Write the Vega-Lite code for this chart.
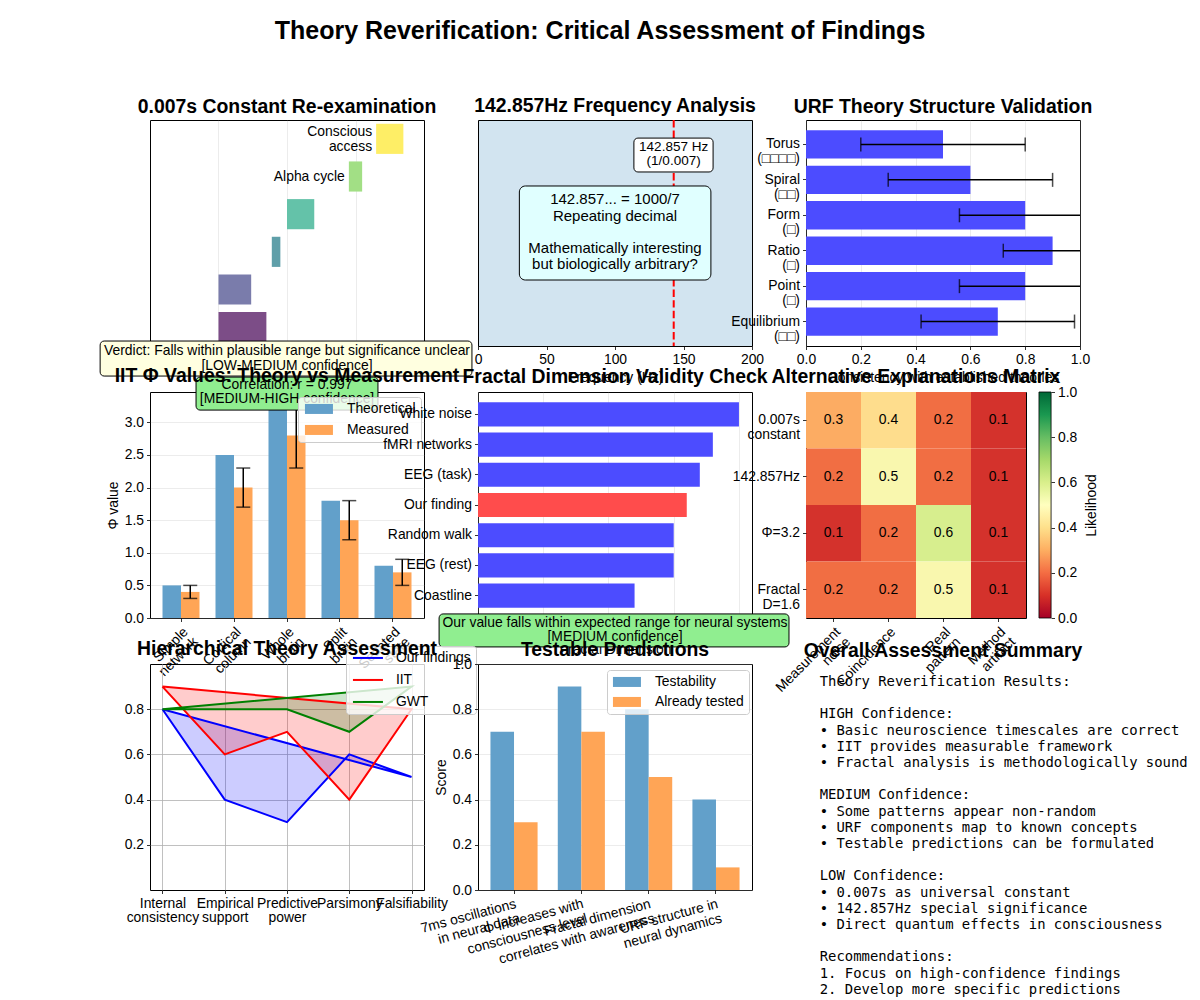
{
  "$schema": "https://vega.github.io/schema/vega-lite/v6.json",
  "autosize": {"type": "none"},
  "padding": {"left": 150, "top": 120, "right": 1050, "bottom": 880},
  "background": "white",
  "title": {"text": "Theory Reverification: Critical Assessment of Findings", "fontSize": 25, "fontWeight": "bold", "anchor": "start", "frame": "group", "align": "center", "dx": 450, "offset": 31, "baseline": "alphabetic"},
  "columns": 3,
  "spacing": {"row": 46, "column": 54},
  "bounds": "flush",
  "align": "all",
  "resolve": {"scale": {"color": "independent"}, "legend": {"color": "independent"}},
  "config": {
    "font": "Liberation Sans",
    "view": {"stroke": "black", "strokeWidth": 1},
    "axis": {"domain": false, "grid": false, "ticks": true, "tickColor": "black", "tickSize": 3.5, "tickWidth": 0.8, "labelFontSize": 13.9, "labelColor": "black", "labelPadding": 3, "titleFontSize": 13.9, "titleFontWeight": "normal", "titleColor": "black", "labelFont": "Liberation Sans", "titleFont": "Liberation Sans", "gridColor": "#b0b0b0", "gridOpacity": 0.3, "gridWidth": 0.8, "labelOverlap": false, "labelFlush": false},
    "title": {"font": "Liberation Sans", "fontSize": 19.4, "fontWeight": "bold", "color": "black", "anchor": "middle", "baseline": "alphabetic", "offset": 3},
    "legend": {"labelFontSize": 13.9, "labelFont": "Liberation Sans", "labelColor": "black", "fillColor": "rgba(255,255,255,0.8)", "strokeColor": "#cccccc", "cornerRadius": 3, "padding": 5, "symbolOpacity": 1, "rowPadding": 6, "orient": "none", "labelLimit": 300}
  },
  "concat": [
    {
      "width": 274, "height": 226,
      "title": {"text": "0.007s Constant Re-examination"},
      "resolve": {"scale": {"x": "independent", "y": "independent"}},
      "layer": [
        {
          "data": {"values": [
            {"process": "Synaptic integration", "start": 0.001, "end": 0.005, "label": ""},
            {"process": "Action potential", "start": 0.001, "end": 0.003, "label": ""},
            {"process": "Proposed constant", "start": 0.006, "end": 0.008, "label": ""},
            {"process": "Gamma cycle", "start": 0.01, "end": 0.025, "label": ""},
            {"process": "Alpha cycle", "start": 0.08, "end": 0.125, "label": "Alpha cycle"},
            {"process": "Conscious access", "start": 0.2, "end": 0.5, "label": "Conscious\naccess"}
          ]},
          "encoding": {
            "y": {"field": "process", "type": "nominal", "scale": {"domain": ["Conscious access", "Alpha cycle", "Gamma cycle", "Proposed constant", "Action potential", "Synaptic integration"], "paddingInner": 0.2, "paddingOuter": 0.1}, "axis": null},
            "x": {"field": "start", "type": "quantitative", "scale": {"type": "log", "domain": [0.0001, 1]}, "axis": {"grid": true, "labels": false, "title": null, "values": [0.001, 0.01, 0.1]}},
            "x2": {"field": "end"}
          },
          "layer": [
            {"mark": {"type": "bar"}, "encoding": {"color": {"field": "process", "type": "nominal", "scale": {"domain": ["Synaptic integration", "Action potential", "Proposed constant", "Gamma cycle", "Alpha cycle", "Conscious access"], "range": ["#7c4d87", "#7a7cab", "#5f9fa9", "#64c2a9", "#a2df85", "#feee66"]}, "legend": null}}},
            {"mark": {"type": "text", "align": "right", "baseline": "middle", "dx": -4, "dy": -7, "fontSize": 13.9, "lineBreak": "\n", "lineHeight": 15.5}, "transform": [{"filter": "datum.label === 'Conscious\\naccess'"}], "encoding": {"text": {"field": "label"}}},
            {"mark": {"type": "text", "align": "right", "baseline": "middle", "dx": -4, "fontSize": 13.9}, "transform": [{"filter": "datum.label === 'Alpha cycle'"}], "encoding": {"text": {"field": "label"}}}
          ]
        },
        {
          "data": {"values": [{"note": "Verdict: Falls within plausible range but significance unclear\n[LOW-MEDIUM confidence]"}]},
          "layer": [
            {"mark": {"type": "rect", "fill": "#ffffe0", "stroke": "black", "strokeWidth": 1, "cornerRadius": 4},
             "encoding": {"x": {"datum": -0.182, "type": "quantitative", "scale": {"domain": [0, 1]}, "axis": null}, "x2": {"datum": 1.175}, "y": {"datum": 0.022, "type": "quantitative", "scale": {"domain": [0, 1]}, "axis": null}, "y2": {"datum": -0.133}}},
            {"mark": {"type": "text", "fontSize": 13.9, "lineBreak": "\n", "baseline": "middle", "lineHeight": 14.6},
             "encoding": {"x": {"datum": 0.5, "type": "quantitative", "scale": {"domain": [0, 1]}}, "y": {"datum": -0.022, "type": "quantitative", "scale": {"domain": [0, 1]}}, "text": {"field": "note"}}}
          ]
        }
      ]
    },
    {
      "width": 274, "height": 226,
      "title": {"text": "142.857Hz Frequency Analysis"},
      "view": {"fill": "#d2e4f0", "stroke": "black"},
      "resolve": {"scale": {"x": "independent", "y": "independent"}},
      "layer": [
        {
          "data": {"values": [{"frequency": 142.857}]},
          "mark": {"type": "rule", "color": "#ff0000", "strokeWidth": 2, "strokeDash": [7.4, 3.2]},
          "encoding": {"x": {"field": "frequency", "type": "quantitative", "scale": {"domain": [0, 200], "nice": false}, "axis": {"title": "Frequency (Hz)", "values": [0, 50, 100, 150, 200]}}}
        },
        {
          "data": {"values": [{"note": "142.857 Hz\n(1/0.007)"}]},
          "layer": [
            {"mark": {"type": "rect", "fill": "white", "stroke": "black", "strokeWidth": 1, "cornerRadius": 4},
             "encoding": {"x": {"datum": 0.569, "type": "quantitative", "scale": {"domain": [0, 1]}, "axis": null}, "x2": {"datum": 0.858}, "y": {"datum": 0.92, "type": "quantitative", "scale": {"domain": [0, 1]}, "axis": null}, "y2": {"datum": 0.77}}},
            {"mark": {"type": "text", "fontSize": 13.5, "lineBreak": "\n", "baseline": "middle", "lineHeight": 14.3},
             "encoding": {"x": {"datum": 0.714, "type": "quantitative", "scale": {"domain": [0, 1]}}, "y": {"datum": 0.881, "type": "quantitative", "scale": {"domain": [0, 1]}}, "text": {"field": "note"}}}
          ]
        },
        {
          "data": {"values": [{"fact": "142.857... = 1000/7\nRepeating decimal", "judgement": "Mathematically interesting\nbut biologically arbitrary?"}]},
          "layer": [
            {"mark": {"type": "rect", "fill": "#e0ffff", "stroke": "black", "strokeWidth": 1, "cornerRadius": 6},
             "encoding": {"x": {"datum": 0.151, "type": "quantitative", "scale": {"domain": [0, 1]}, "axis": null}, "x2": {"datum": 0.85}, "y": {"datum": 0.708, "type": "quantitative", "scale": {"domain": [0, 1]}, "axis": null}, "y2": {"datum": 0.292}}},
            {"mark": {"type": "text", "fontSize": 15, "lineBreak": "\n", "baseline": "middle", "lineHeight": 16.3},
             "encoding": {"x": {"datum": 0.5, "type": "quantitative", "scale": {"domain": [0, 1]}}, "y": {"datum": 0.649, "type": "quantitative", "scale": {"domain": [0, 1]}}, "text": {"field": "fact"}}},
            {"mark": {"type": "text", "fontSize": 15, "lineBreak": "\n", "baseline": "middle", "lineHeight": 16.3},
             "encoding": {"x": {"datum": 0.5, "type": "quantitative", "scale": {"domain": [0, 1]}}, "y": {"datum": 0.433, "type": "quantitative", "scale": {"domain": [0, 1]}}, "text": {"field": "judgement"}}}
          ]
        }
      ]
    },
    {
      "width": 274, "height": 226,
      "title": {"text": "URF Theory Structure Validation"},
      "data": {"values": [
        {"component": "Torus\n(□□□□)", "score": 0.5, "lo": 0.2, "hi": 0.8},
        {"component": "Spiral\n(□□)", "score": 0.6, "lo": 0.3, "hi": 0.9},
        {"component": "Form\n(□)", "score": 0.8, "lo": 0.56, "hi": 1.04},
        {"component": "Ratio\n(□)", "score": 0.9, "lo": 0.72, "hi": 1.08},
        {"component": "Point\n(□)", "score": 0.8, "lo": 0.56, "hi": 1.04},
        {"component": "Equilibrium\n(□□)", "score": 0.7, "lo": 0.42, "hi": 0.98}
      ]},
      "encoding": {
        "y": {"field": "component", "type": "nominal", "sort": null, "scale": {"paddingInner": 0.2, "paddingOuter": 0.29}, "axis": {"title": null, "labelExpr": "split(datum.label, '\\n')", "labelLineHeight": 15}}
      },
      "layer": [
        {"mark": {"type": "bar", "color": "#4c4cff"}, "encoding": {"x": {"field": "score", "type": "quantitative", "scale": {"domain": [0, 1], "nice": false}, "axis": {"grid": true, "values": [0, 0.2, 0.4, 0.6, 0.8, 1.0], "format": ".1f", "title": "Consistency with established theories"}}}},
        {"mark": {"type": "rule", "color": "black", "strokeWidth": 1.5, "clip": true}, "encoding": {"x": {"field": "lo", "type": "quantitative"}, "x2": {"field": "hi"}}},
        {"mark": {"type": "tick", "color": "black", "thickness": 1.5, "size": 14, "clip": true}, "encoding": {"x": {"field": "lo", "type": "quantitative"}}},
        {"mark": {"type": "tick", "color": "black", "thickness": 1.5, "size": 14, "clip": true}, "encoding": {"x": {"field": "hi", "type": "quantitative"}}}
      ]
    },
    {
      "width": 274, "height": 226,
      "title": {"text": "IIT Φ Values: Theory vs Measurement", "dy": 13},
      "resolve": {"scale": {"x": "independent", "y": "independent"}},
      "layer": [
        {
          "data": {"values": [
            {"system": "Simple\nnetwork", "type": "Theoretical", "phi": 0.5},
            {"system": "Simple\nnetwork", "type": "Measured", "phi": 0.4, "lo": 0.3, "hi": 0.5},
            {"system": "Cortical\ncolumn", "type": "Theoretical", "phi": 2.5},
            {"system": "Cortical\ncolumn", "type": "Measured", "phi": 2.0, "lo": 1.7, "hi": 2.3},
            {"system": "Whole\nbrain", "type": "Theoretical", "phi": 3.2},
            {"system": "Whole\nbrain", "type": "Measured", "phi": 2.8, "lo": 2.3, "hi": 3.3},
            {"system": "Split\nbrain", "type": "Theoretical", "phi": 1.8},
            {"system": "Split\nbrain", "type": "Measured", "phi": 1.5, "lo": 1.2, "hi": 1.8},
            {"system": "Sedated\nstate", "type": "Theoretical", "phi": 0.8},
            {"system": "Sedated\nstate", "type": "Measured", "phi": 0.7, "lo": 0.5, "hi": 0.9}
          ]},
          "encoding": {
            "x": {"field": "system", "type": "nominal", "sort": null, "scale": {"type": "band", "paddingInner": 0.302, "paddingOuter": 0.236}, "axis": {"title": null, "labelExpr": "split(datum.label, '\\n')", "labelAngle": 315, "labelAlign": "right", "labelBaseline": "top", "labelLineHeight": 14}},
            "y": {"field": "phi", "type": "quantitative", "scale": {"domain": [0, 3.466], "nice": false}, "axis": {"grid": true, "values": [0, 0.5, 1, 1.5, 2, 2.5, 3], "format": ".1f", "title": "Φ value"}}
          },
          "layer": [
            {"transform": [{"filter": "datum.type === 'Theoretical'"}], "mark": {"type": "bar", "width": {"band": 0.5}, "xOffset": -9.25}, "encoding": {
              "color": {"field": "type", "type": "nominal", "scale": {"domain": ["Theoretical", "Measured"], "range": ["#62a0ca", "#ffa556"]}, "legend": {"title": null, "legendX": 148, "legendY": 5, "symbolType": "M-2.8,-1H2.8V1H-2.8Z", "symbolSize": 100, "symbolStrokeWidth": 0, "symbolOffset": 9, "labelOffset": 21}}
            }},
            {"transform": [{"filter": "datum.type === 'Measured'"}], "mark": {"type": "bar", "width": {"band": 0.5}, "xOffset": 9.25}, "encoding": {
              "color": {"field": "type", "type": "nominal", "scale": {"domain": ["Theoretical", "Measured"], "range": ["#62a0ca", "#ffa556"]}, "legend": {"title": null, "legendX": 148, "legendY": 5, "symbolType": "M-2.8,-1H2.8V1H-2.8Z", "symbolSize": 100, "symbolStrokeWidth": 0, "symbolOffset": 9, "labelOffset": 21}}
            }},
            {"transform": [{"filter": "datum.type === 'Measured'"}], "mark": {"type": "rule", "color": "black", "strokeWidth": 1.5, "xOffset": 9.25}, "encoding": {"y": {"field": "lo", "type": "quantitative"}, "y2": {"field": "hi"}}},
            {"transform": [{"filter": "datum.type === 'Measured'"}], "mark": {"type": "tick", "color": "black", "thickness": 1.5, "size": 14, "xOffset": 9.25}, "encoding": {"y": {"field": "lo", "type": "quantitative"}}},
            {"transform": [{"filter": "datum.type === 'Measured'"}], "mark": {"type": "tick", "color": "black", "thickness": 1.5, "size": 14, "xOffset": 9.25}, "encoding": {"y": {"field": "hi", "type": "quantitative"}}}
          ]
        },
        {
          "data": {"values": [{"note": "Correlation: r = 0.997\n[MEDIUM-HIGH confidence]"}]},
          "layer": [
            {"mark": {"type": "rect", "fill": "#90ee90", "stroke": "black", "strokeWidth": 1, "cornerRadius": 4},
             "encoding": {"x": {"datum": 0.168, "type": "quantitative", "scale": {"domain": [0, 1]}, "axis": null}, "x2": {"datum": 0.832}, "y": {"datum": 1.066, "type": "quantitative", "scale": {"domain": [0, 1]}, "axis": null}, "y2": {"datum": 0.92}}},
            {"mark": {"type": "text", "fontSize": 13.9, "lineBreak": "\n", "baseline": "middle", "lineHeight": 14.5},
             "encoding": {"x": {"datum": 0.5, "type": "quantitative", "scale": {"domain": [0, 1]}}, "y": {"datum": 1.031, "type": "quantitative", "scale": {"domain": [0, 1]}}, "text": {"field": "note"}}}
          ]
        }
      ]
    },
    {
      "width": 274, "height": 226,
      "title": {"text": "Fractal Dimension Validity Check", "dy": -2},
      "resolve": {"scale": {"x": "independent", "y": "independent"}},
      "layer": [
        {
          "data": {"values": [
            {"system": "White noise", "dimension": 2.0},
            {"system": "fMRI networks", "dimension": 1.8},
            {"system": "EEG (task)", "dimension": 1.7},
            {"system": "Our finding", "dimension": 1.6},
            {"system": "Random walk", "dimension": 1.5},
            {"system": "EEG (rest)", "dimension": 1.5},
            {"system": "Coastline", "dimension": 1.2}
          ]},
          "mark": {"type": "bar"},
          "encoding": {
            "y": {"field": "system", "type": "nominal", "sort": null, "scale": {"paddingInner": 0.2, "paddingOuter": 0.34}, "axis": {"title": null}},
            "x": {"field": "dimension", "type": "quantitative", "scale": {"domain": [0, 2.1], "nice": false}, "axis": {"grid": true, "values": [0, 0.5, 1, 1.5, 2], "format": ".1f", "title": "Fractal Dimension"}},
            "color": {"condition": {"test": "datum.system === 'Our finding'", "value": "#ff4c4c"}, "value": "#4c4cff"}
          }
        },
        {
          "data": {"values": [{"note": "Our value falls within expected range for neural systems\n[MEDIUM confidence]"}]},
          "layer": [
            {"mark": {"type": "rect", "fill": "#90ee90", "stroke": "black", "strokeWidth": 1, "cornerRadius": 4},
             "encoding": {"x": {"datum": -0.142, "type": "quantitative", "scale": {"domain": [0, 1]}, "axis": null}, "x2": {"datum": 1.135}, "y": {"datum": 0.018, "type": "quantitative", "scale": {"domain": [0, 1]}, "axis": null}, "y2": {"datum": -0.128}}},
            {"mark": {"type": "text", "fontSize": 13.9, "lineBreak": "\n", "baseline": "middle", "lineHeight": 14},
             "encoding": {"x": {"datum": 0.5, "type": "quantitative", "scale": {"domain": [0, 1]}}, "y": {"datum": -0.021, "type": "quantitative", "scale": {"domain": [0, 1]}}, "text": {"field": "note"}}}
          ]
        }
      ]
    },
    {
      "width": 220, "height": 226,
      "title": {"text": "Alternative Explanations Matrix", "dy": 5},
      "resolve": {"scale": {"x": "independent", "y": "independent"}},
      "layer": [
        {
          "data": {"values": [
            {"claim": "0.007s\nconstant", "explanation": "Measurement\nnoise", "likelihood": 0.3},
            {"claim": "0.007s\nconstant", "explanation": "Coincidence", "likelihood": 0.4},
            {"claim": "0.007s\nconstant", "explanation": "Real\npattern", "likelihood": 0.2},
            {"claim": "0.007s\nconstant", "explanation": "Method\nartifact", "likelihood": 0.1},
            {"claim": "142.857Hz", "explanation": "Measurement\nnoise", "likelihood": 0.2},
            {"claim": "142.857Hz", "explanation": "Coincidence", "likelihood": 0.5},
            {"claim": "142.857Hz", "explanation": "Real\npattern", "likelihood": 0.2},
            {"claim": "142.857Hz", "explanation": "Method\nartifact", "likelihood": 0.1},
            {"claim": "Φ=3.2", "explanation": "Measurement\nnoise", "likelihood": 0.1},
            {"claim": "Φ=3.2", "explanation": "Coincidence", "likelihood": 0.2},
            {"claim": "Φ=3.2", "explanation": "Real\npattern", "likelihood": 0.6},
            {"claim": "Φ=3.2", "explanation": "Method\nartifact", "likelihood": 0.1},
            {"claim": "Fractal\nD=1.6", "explanation": "Measurement\nnoise", "likelihood": 0.2},
            {"claim": "Fractal\nD=1.6", "explanation": "Coincidence", "likelihood": 0.2},
            {"claim": "Fractal\nD=1.6", "explanation": "Real\npattern", "likelihood": 0.5},
            {"claim": "Fractal\nD=1.6", "explanation": "Method\nartifact", "likelihood": 0.1}
          ]},
          "encoding": {
            "x": {"field": "explanation", "type": "nominal", "sort": null, "scale": {"paddingInner": 0, "paddingOuter": 0}, "axis": {"title": null, "labelExpr": "split(datum.label, '\\n')", "labelAngle": 315, "labelAlign": "right", "labelBaseline": "top", "labelLineHeight": 14}},
            "y": {"field": "claim", "type": "nominal", "sort": null, "scale": {"paddingInner": 0, "paddingOuter": 0}, "axis": {"title": null, "labelExpr": "split(datum.label, '\\n')", "labelLineHeight": 15}}
          },
          "layer": [
            {"mark": {"type": "rect"}, "encoding": {"color": {"field": "likelihood", "type": "quantitative", "scale": {"scheme": "redyellowgreen", "domain": [0, 1]}, "legend": null}}},
            {"mark": {"type": "text", "fontSize": 13.9, "color": "black"}, "encoding": {"text": {"field": "likelihood", "type": "quantitative", "format": ".1f"}}}
          ]
        },
        {
          "data": {"values": [{}]},
          "mark": {"type": "rect", "fill": {"gradient": "linear", "x1": 0, "y1": 1, "x2": 0, "y2": 0, "stops": [
            {"offset": 0, "color": "#a50026"}, {"offset": 0.1, "color": "#d73027"}, {"offset": 0.2, "color": "#f46d43"}, {"offset": 0.3, "color": "#fdae61"}, {"offset": 0.4, "color": "#fee08b"}, {"offset": 0.5, "color": "#ffffbf"}, {"offset": 0.6, "color": "#d9ef8b"}, {"offset": 0.7, "color": "#a6d96a"}, {"offset": 0.8, "color": "#66bd63"}, {"offset": 0.9, "color": "#1a9850"}, {"offset": 1, "color": "#006837"}]}, "stroke": "black", "strokeWidth": 0.8},
          "encoding": {
            "x": {"datum": 1.059, "type": "quantitative", "scale": {"domain": [0, 1]}, "axis": null},
            "x2": {"datum": 1.114},
            "y": {"datum": 0, "type": "quantitative", "scale": {"domain": [0, 1], "nice": false}, "axis": {"orient": "right", "offset": 25, "values": [0, 0.2, 0.4, 0.6, 0.8, 1], "format": ".1f", "title": "Likelihood", "titleAngle": 270, "titlePadding": 22}},
            "y2": {"datum": 1}
          }
        }
      ]
    },
    {
      "width": 274, "height": 226,
      "title": {"text": "Hierarchical Theory Assessment", "dy": 17},
      "data": {"values": [
        {"theory": "Our findings", "criterion": "Internal\nconsistency", "step": 0, "score": 0.8},
        {"theory": "Our findings", "criterion": "Empirical\nsupport", "step": 1, "score": 0.4},
        {"theory": "Our findings", "criterion": "Predictive\npower", "step": 2, "score": 0.3},
        {"theory": "Our findings", "criterion": "Parsimony", "step": 3, "score": 0.6},
        {"theory": "Our findings", "criterion": "Falsifiability", "step": 4, "score": 0.5},
        {"theory": "Our findings", "criterion": "Internal\nconsistency", "step": 5, "score": 0.8},
        {"theory": "IIT", "criterion": "Internal\nconsistency", "step": 0, "score": 0.9},
        {"theory": "IIT", "criterion": "Empirical\nsupport", "step": 1, "score": 0.6},
        {"theory": "IIT", "criterion": "Predictive\npower", "step": 2, "score": 0.7},
        {"theory": "IIT", "criterion": "Parsimony", "step": 3, "score": 0.4},
        {"theory": "IIT", "criterion": "Falsifiability", "step": 4, "score": 0.8},
        {"theory": "IIT", "criterion": "Internal\nconsistency", "step": 5, "score": 0.9},
        {"theory": "GWT", "criterion": "Internal\nconsistency", "step": 0, "score": 0.8},
        {"theory": "GWT", "criterion": "Empirical\nsupport", "step": 1, "score": 0.8},
        {"theory": "GWT", "criterion": "Predictive\npower", "step": 2, "score": 0.8},
        {"theory": "GWT", "criterion": "Parsimony", "step": 3, "score": 0.7},
        {"theory": "GWT", "criterion": "Falsifiability", "step": 4, "score": 0.9},
        {"theory": "GWT", "criterion": "Internal\nconsistency", "step": 5, "score": 0.8}
      ]},
      "encoding": {
        "x": {"field": "criterion", "type": "nominal", "scale": {"type": "point", "domain": ["Internal\nconsistency", "Empirical\nsupport", "Predictive\npower", "Parsimony", "Falsifiability"], "padding": 0.2}, "axis": {"title": null, "grid": true, "gridOpacity": 1, "labelExpr": "split(datum.label, '\\n')", "labelAngle": 0, "labelAlign": "center", "labelBaseline": "top", "labelLineHeight": 14}},
        "y": {"field": "score", "type": "quantitative", "scale": {"domain": [0, 1], "nice": false}, "axis": {"grid": true, "gridOpacity": 1, "values": [0.2, 0.4, 0.6, 0.8], "format": ".1f", "title": null}},
        "order": {"field": "step", "type": "quantitative"}
      },
      "layer": [
        {"transform": [{"filter": "datum.theory === 'Our findings'"}], "mark": {"type": "line"}, "encoding": {"fill": {"value": "#0000ff"}, "fillOpacity": {"value": 0.2}, "strokeOpacity": {"value": 0}}},
        {"transform": [{"filter": "datum.theory === 'IIT'"}], "mark": {"type": "line"}, "encoding": {"fill": {"value": "#ff0000"}, "fillOpacity": {"value": 0.2}, "strokeOpacity": {"value": 0}}},
        {"transform": [{"filter": "datum.theory === 'GWT'"}], "mark": {"type": "line"}, "encoding": {"fill": {"value": "#008000"}, "fillOpacity": {"value": 0.2}, "strokeOpacity": {"value": 0}}},
        {"mark": {"type": "line", "strokeWidth": 2}, "encoding": {"color": {"field": "theory", "type": "nominal", "scale": {"domain": ["Our findings", "IIT", "GWT"], "range": ["#0000ff", "#ff0000", "#008000"]}, "legend": {"title": null, "legendX": 196, "legendY": -18, "symbolType": "M-3,0H3", "symbolSize": 100, "symbolStrokeWidth": 2, "symbolOffset": 10, "labelOffset": 21, "rowPadding": 7}}}}
      ]
    },
    {
      "width": 274, "height": 226,
      "title": {"text": "Testable Predictions", "dy": 6},
      "data": {"values": [
        {"prediction": "7ms oscillations\nin neural data", "metric": "Testability", "score": 0.7},
        {"prediction": "7ms oscillations\nin neural data", "metric": "Already tested", "score": 0.3},
        {"prediction": "Φ increases with\nconsciousness level", "metric": "Testability", "score": 0.9},
        {"prediction": "Φ increases with\nconsciousness level", "metric": "Already tested", "score": 0.7},
        {"prediction": "Fractal dimension\ncorrelates with awareness", "metric": "Testability", "score": 0.8},
        {"prediction": "Fractal dimension\ncorrelates with awareness", "metric": "Already tested", "score": 0.5},
        {"prediction": "URF structure in\nneural dynamics", "metric": "Testability", "score": 0.4},
        {"prediction": "URF structure in\nneural dynamics", "metric": "Already tested", "score": 0.1}
      ]},
      "encoding": {
        "x": {"field": "prediction", "type": "nominal", "sort": null, "scale": {"type": "band", "paddingInner": 0.3, "paddingOuter": 0.185}, "axis": {"title": null, "labelExpr": "split(datum.label, '\\n')", "labelAngle": 345, "labelAlign": "right", "labelBaseline": "top", "labelLineHeight": 15}},
        "y": {"field": "score", "type": "quantitative", "scale": {"domain": [0, 1], "nice": false}, "axis": {"grid": true, "values": [0, 0.2, 0.4, 0.6, 0.8, 1.0], "format": ".1f", "title": "Score"}},
        "color": {"field": "metric", "type": "nominal", "scale": {"domain": ["Testability", "Already tested"], "range": ["#62a0ca", "#ffa556"]}, "legend": {"title": null, "legendX": 129, "legendY": 6, "symbolType": "M-2.8,-1H2.8V1H-2.8Z", "symbolSize": 100, "symbolStrokeWidth": 0, "symbolOffset": 8, "labelOffset": 21, "rowPadding": 5}}
      },
      "layer": [
        {"transform": [{"filter": "datum.metric === 'Testability'"}], "mark": {"type": "bar", "width": {"band": 0.5}, "xOffset": -11.78}},
        {"transform": [{"filter": "datum.metric === 'Already tested'"}], "mark": {"type": "bar", "width": {"band": 0.5}, "xOffset": 11.78}}
      ]
    },
    {
      "width": 274, "height": 226,
      "title": {"text": "Overall Assessment Summary"},
      "view": {"stroke": null},
      "data": {"values": [{
        "heading": "Theory Reverification Results:",
        "high": "HIGH Confidence:\n• Basic neuroscience timescales are correct\n• IIT provides measurable framework\n• Fractal analysis is methodologically sound",
        "medium": "MEDIUM Confidence:\n• Some patterns appear non-random\n• URF components map to known concepts\n• Testable predictions can be formulated",
        "low": "LOW Confidence:\n• 0.007s as universal constant\n• 142.857Hz special significance\n• Direct quantum effects in consciousness",
        "recommendations": "Recommendations:\n1. Focus on high-confidence findings\n2. Develop more specific predictions"
      }]},
      "encoding": {
        "x": {"datum": 0.05, "type": "quantitative", "scale": {"domain": [0, 1]}, "axis": null}
      },
      "layer": [
        {"mark": {"type": "text", "align": "left", "baseline": "top", "font": "DejaVu Sans Mono", "fontSize": 13.9, "lineHeight": 16.2, "lineBreak": "\n", "color": "black"}, "encoding": {"y": {"datum": 0.95, "type": "quantitative", "scale": {"domain": [0, 1], "nice": false}, "axis": null}, "text": {"field": "heading"}}},
        {"mark": {"type": "text", "align": "left", "baseline": "top", "font": "DejaVu Sans Mono", "fontSize": 13.9, "lineHeight": 16.2, "lineBreak": "\n", "color": "black"}, "encoding": {"y": {"datum": 0.808, "type": "quantitative", "scale": {"domain": [0, 1], "nice": false}, "axis": null}, "text": {"field": "high"}}},
        {"mark": {"type": "text", "align": "left", "baseline": "top", "font": "DejaVu Sans Mono", "fontSize": 13.9, "lineHeight": 16.2, "lineBreak": "\n", "color": "black"}, "encoding": {"y": {"datum": 0.4496, "type": "quantitative", "scale": {"domain": [0, 1], "nice": false}, "axis": null}, "text": {"field": "medium"}}},
        {"mark": {"type": "text", "align": "left", "baseline": "top", "font": "DejaVu Sans Mono", "fontSize": 13.9, "lineHeight": 16.2, "lineBreak": "\n", "color": "black"}, "encoding": {"y": {"datum": 0.0912, "type": "quantitative", "scale": {"domain": [0, 1], "nice": false}, "axis": null}, "text": {"field": "low"}}},
        {"mark": {"type": "text", "align": "left", "baseline": "top", "font": "DejaVu Sans Mono", "fontSize": 13.9, "lineHeight": 16.2, "lineBreak": "\n", "color": "black"}, "encoding": {"y": {"datum": -0.2673, "type": "quantitative", "scale": {"domain": [0, 1], "nice": false}, "axis": null}, "text": {"field": "recommendations"}}}
      ]
    }
  ]
}
